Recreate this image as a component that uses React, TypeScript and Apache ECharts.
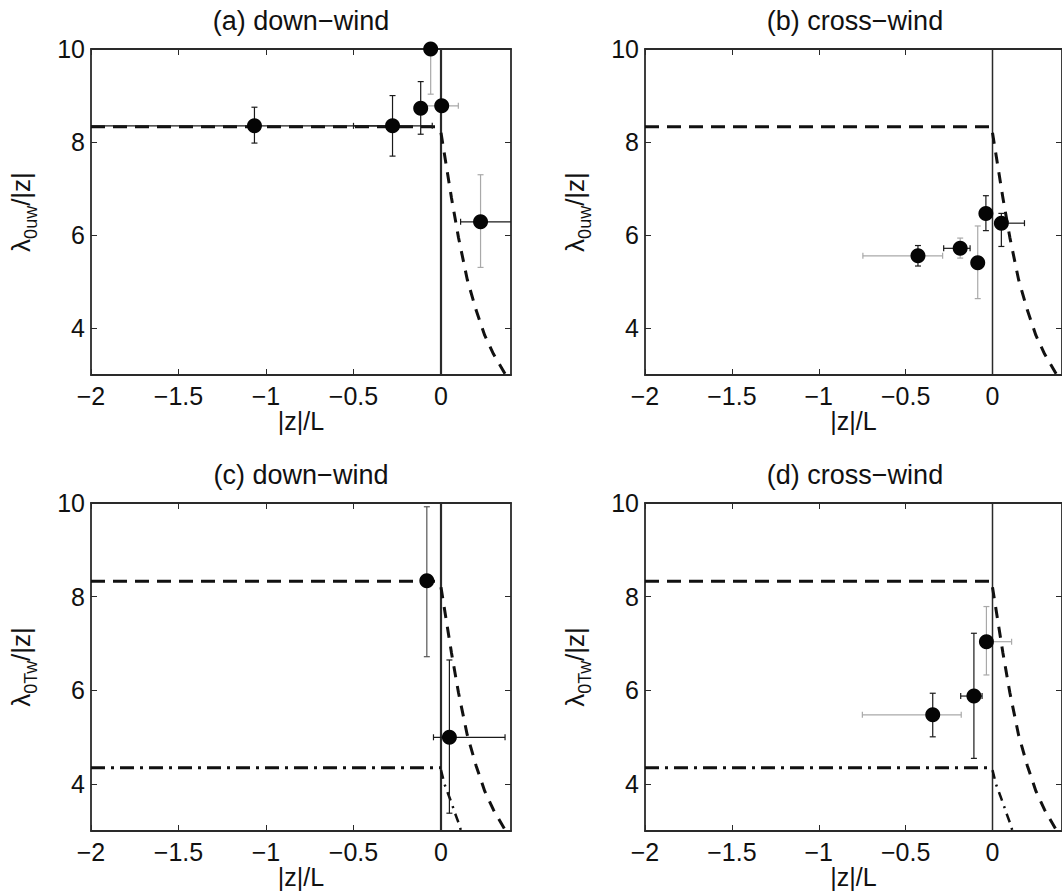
import React, { useEffect, useRef } from 'react';
import * as echarts from 'echarts';

// ---------- text ----------
const panelTitles = ['(a) down−wind', '(b) cross−wind', '(c) down−wind', '(d) cross−wind'];
const ySubscripts = ['0uw', '0uw', '0Tw', '0Tw'];
const xAxisName = '|z|/L';

// ---------- axes ----------
const xMin = -2;
const xMax = 0.4;
const yMin = 3;
const yMax = 10;
const xTicks = [-2, -1.5, -1, -0.5, 0];
const yTicks = [4, 6, 8, 10];

// ---------- observations: [x, y, xLow, xHigh, yLow, yHigh] ----------
const obsA = [
  [-1.066, 8.35, -2.2, -0.3, 7.98, 8.75],
  [-0.277, 8.35, -0.5, -0.05, 7.7, 9.0],
  [-0.116, 8.73, -0.116, -0.116, 8.17, 9.3],
  [-0.059, 10.0, -0.059, -0.059, 9.03, 10.97],
  [0.004, 8.78, -0.09, 0.099, 8.78, 8.78],
  [0.226, 6.29, 0.112, 0.45, 5.31, 7.3],
];
const obsB = [
  [-0.429, 5.56, -0.746, -0.287, 5.34, 5.78],
  [-0.186, 5.72, -0.281, -0.129, 5.51, 5.94],
  [-0.085, 5.41, -0.085, -0.085, 4.64, 6.2],
  [-0.038, 6.47, -0.038, -0.038, 6.1, 6.85],
  [0.051, 6.26, 0.019, 0.184, 5.76, 6.47],
];
const obsC = [
  [-0.081, 8.34, -0.081, -0.081, 6.72, 9.92],
  [0.048, 5.0, -0.043, 0.366, 3.38, 6.65],
];
const obsD = [
  [-0.344, 5.48, -0.749, -0.18, 5.01, 5.94],
  [-0.107, 5.88, -0.183, -0.06, 4.55, 7.22],
  [-0.035, 7.04, -0.06, 0.11, 6.33, 7.79],
];
// error-bar tone per point: [vertical, horizontal]  0 = black, 1 = light grey, 2 = dark grey
const tonesA = [[0, 0], [0, 0], [0, 0], [1, 0], [0, 1], [1, 0]];
const tonesB = [[0, 1], [1, 0], [1, 0], [0, 0], [0, 0]];
const tonesC = [[2, 0], [0, 0]];
const tonesD = [[0, 1], [0, 0], [1, 1]];

// ---------- reference curves ----------
const neutralLevelU = 8.33;
const neutralLevelT = 4.35;
const flatX = [-2, 0];
const stableUX = [0, 0.03, 0.06, 0.1, 0.15, 0.2, 0.25, 0.3, 0.37];
const stableUY = [8.2, 7.5, 6.8, 5.95, 5.05, 4.4, 3.85, 3.45, 3.0];
const stableTX = [0, 0.02, 0.04, 0.06, 0.08, 0.1, 0.115];
const stableTY = [4.3, 4.0, 3.8, 3.6, 3.38, 3.18, 3.0];
const zeroLineY = [3, 10];

// ---------- layout / style ----------
const FONT = '"Liberation Sans", Arial, Helvetica, sans-serif';
const INK = '#111111';
const AXIS = '#2a2a2a';
const TONES = ['#1a1a1a', '#a9a9a9', '#555555'];
const LAYOUT = [
  { left: 91, top: 49, width: 420, height: 326 },
  { left: 645, top: 49, width: 421, height: 326 },
  { left: 91, top: 503, width: 420, height: 328 },
  { left: 645, top: 503, width: 421, height: 328 },
];

const panels = [
  { obs: obsA, tones: tonesA, temp: false, zeroW: 2.2 },
  { obs: obsB, tones: tonesB, temp: false, zeroW: 1.5 },
  { obs: obsC, tones: tonesC, temp: true, zeroW: 2.2 },
  { obs: obsD, tones: tonesD, temp: true, zeroW: 1.5 },
];

const fmtX = (v: number) => (v === 0 ? '0' : String(v).replace('-', '−'));

function buildOption() {
  const grid: any[] = [];
  const xAxis: any[] = [];
  const yAxis: any[] = [];
  const series: any[] = [];
  const graphic: any[] = [];

  panels.forEach((p, i) => {
    const L = LAYOUT[i];
    grid.push({ left: L.left, top: L.top, width: L.width, height: L.height, show: false, containLabel: false });

    const tick = { show: true, inside: true, length: 6, lineStyle: { color: AXIS, width: 1 } };
    const line = { show: true, onZero: false, lineStyle: { color: AXIS, width: 1.8 } };

    xAxis.push({
      type: 'value', gridIndex: i, position: 'bottom', min: xMin, max: xMax,
      axisLine: line,
      axisTick: { ...tick, customValues: xTicks },
      axisLabel: { customValues: xTicks, formatter: fmtX, fontSize: 25, color: INK, fontFamily: FONT, margin: 8 },
      splitLine: { show: false },
      name: xAxisName, nameLocation: 'middle', nameGap: 28,
      nameTextStyle: { fontSize: 25, color: INK, fontFamily: FONT },
    });
    xAxis.push({
      type: 'value', gridIndex: i, position: 'top', min: xMin, max: xMax,
      axisLine: line,
      axisTick: { ...tick, customValues: xTicks },
      axisLabel: { show: false },
      splitLine: { show: false },
    });
    yAxis.push({
      type: 'value', gridIndex: i, position: 'left', min: yMin, max: yMax,
      axisLine: line,
      axisTick: { ...tick, customValues: yTicks },
      axisLabel: { customValues: yTicks, fontSize: 25, color: INK, fontFamily: FONT, margin: 6 },
      splitLine: { show: false },
      name: `{m|λ}{s|${ySubscripts[i]}}{m|/|z|}`,
      nameLocation: 'middle', nameRotate: 90, nameGap: 51,
      nameTextStyle: {
        color: INK, fontFamily: FONT,
        rich: {
          m: { fontSize: 26, lineHeight: 38, color: INK, fontFamily: FONT, verticalAlign: 'middle' },
          s: { fontSize: 18, lineHeight: 18, color: INK, fontFamily: FONT, verticalAlign: 'bottom' },
        },
      },
    });
    yAxis.push({
      type: 'value', gridIndex: i, position: 'right', min: yMin, max: yMax,
      axisLine: line,
      axisTick: { ...tick, customValues: yTicks },
      axisLabel: { show: false },
      splitLine: { show: false },
    });

    const xi = i * 2;
    const yi = i * 2;
    const base = { xAxisIndex: xi, yAxisIndex: yi, silent: true, animation: false };

    series.push({
      ...base, type: 'line', symbol: 'none', z: 1, clip: true,
      data: zeroLineY.map((y) => [0, y]),
      lineStyle: { color: AXIS, width: p.zeroW },
    });
    series.push({
      ...base, type: 'line', symbol: 'none', z: 2, clip: true,
      data: flatX.map((x) => [x, neutralLevelU]),
      lineStyle: { color: INK, width: 3, type: [14, 8] },
    });
    series.push({
      ...base, type: 'line', symbol: 'none', z: 2, clip: true,
      data: stableUX.map((x, k) => [x, stableUY[k]]),
      lineStyle: { color: INK, width: 3, type: [11, 9] },
    });
    if (p.temp) {
      series.push({
        ...base, type: 'line', symbol: 'none', z: 2, clip: true,
        data: flatX.map((x) => [x, neutralLevelT]),
        lineStyle: { color: INK, width: 3, type: [14, 6, 3, 6] },
      });
      series.push({
        ...base, type: 'line', symbol: 'none', z: 2, clip: true,
        data: stableTX.map((x, k) => [x, stableTY[k]]),
        lineStyle: { color: INK, width: 2.5, type: [9, 6, 2, 6] },
      });
    }

    series.push({
      ...base, type: 'custom', z: 3, clip: true,
      data: p.obs.map((r, k) => [...r, p.tones[k][0], p.tones[k][1]]),
      renderItem: (_params: any, api: any) => {
        const x = api.value(0), y = api.value(1);
        const xl = api.value(2), xh = api.value(3), yl = api.value(4), yh = api.value(5);
        const vc = TONES[api.value(6)];
        const hc = TONES[api.value(7)];
        const cap = 3;
        const children: any[] = [];
        const seg = (x1: number, y1: number, x2: number, y2: number, c: string) =>
          children.push({ type: 'line', shape: { x1, y1, x2, y2 }, style: { stroke: c, lineWidth: 1.2 } });
        if (yh > yl) {
          const a = api.coord([x, yl]);
          const b = api.coord([x, yh]);
          seg(a[0], a[1], b[0], b[1], vc);
          seg(a[0] - cap, a[1], a[0] + cap, a[1], vc);
          seg(b[0] - cap, b[1], b[0] + cap, b[1], vc);
        }
        if (xh > xl) {
          const a = api.coord([xl, y]);
          const b = api.coord([xh, y]);
          seg(a[0], a[1], b[0], b[1], hc);
          seg(a[0], a[1] - cap, a[0], a[1] + cap, hc);
          seg(b[0], b[1] - cap, b[0], b[1] + cap, hc);
        }
        return { type: 'group', children };
      },
    });

    series.push({
      ...base, type: 'scatter', z: 4, clip: false,
      symbol: 'circle', symbolSize: 15,
      itemStyle: { color: '#050505', opacity: 1 },
      data: p.obs.map((r) => [r[0], r[1]]),
    });

    graphic.push({
      type: 'text', x: L.left + 210, y: L.top - 28,
      style: {
        text: panelTitles[i], fill: INK, fontSize: 27, fontFamily: FONT,
        align: 'center', verticalAlign: 'middle',
      },
    });
  });

  return {
    animation: false,
    backgroundColor: '#ffffff',
    grid, xAxis, yAxis, series, graphic,
  };
}

export default function App() {
  const ref = useRef<HTMLDivElement>(null);
  useEffect(() => {
    if (!ref.current) return;
    const chart = echarts.init(ref.current, null, { renderer: 'svg' });
    chart.setOption(buildOption() as any);
    return () => chart.dispose();
  }, []);
  return (
    <div
      ref={ref}
      style={{ position: 'absolute', left: 0, top: 0, width: 1062, height: 895, background: '#fff' }}
    />
  );
}
